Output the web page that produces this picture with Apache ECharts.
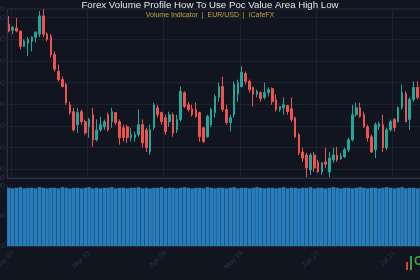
<!DOCTYPE html>
<html><head><meta charset="utf-8">
<script src="https://cdn.jsdelivr.net/npm/echarts@6/dist/echarts.min.js"></script>
<style>html,body{margin:0;padding:0;background:#10151f}#c{width:420px;height:280px}</style>
</head><body><div id="c"></div><script>
const dates = [
'Mar 02','Mar 03','Mar 04','Mar 05','Mar 06','Mar 09','Mar 10','Mar 11','Mar 12','Mar 13',
'Mar 16','Mar 17','Mar 18','Mar 19','Mar 20','Mar 23','Mar 24','Mar 25','Mar 26','Mar 27',
'Mar 30','Mar 31','Apr 01','Apr 02','Apr 03','Apr 06','Apr 07','Apr 08','Apr 09','Apr 10',
'Apr 13','Apr 14','Apr 15','Apr 16','Apr 17','Apr 20','Apr 21','Apr 22','Apr 23','Apr 24',
'Apr 27','Apr 28','Apr 29','Apr 30','May 01','May 04','May 05','May 06','May 07','May 08',
'May 11','May 12','May 13','May 14','May 15','May 18','May 19','May 20','May 21','May 22',
'May 25','May 26','May 27','May 28','May 29','Jun 01','Jun 02','Jun 03','Jun 04','Jun 05',
'Jun 08','Jun 09','Jun 10','Jun 11','Jun 12','Jun 15','Jun 16','Jun 17','Jun 18','Jun 19',
'Jun 22','Jun 23','Jun 24','Jun 25','Jun 26','Jun 29','Jun 30','Jul 01','Jul 02','Jul 03',
'Jul 06','Jul 07','Jul 08','Jul 09','Jul 10','Jul 13','Jul 14','Jul 15','Jul 16','Jul 17',
'Jul 20','Jul 21','Jul 22','Jul 23','Jul 24','Jul 27','Jul 28','Jul 29','Jul 30'];
const opens = [
1.1185,1.1171,1.1176,1.1169,1.1134,1.1141,1.1146,1.1155,1.1162,1.1204,
1.1162,1.1157,1.1115,1.1076,1.1057,1.1046,1.0999,1.0983,1.0953,1.0983,
1.0960,1.0948,1.0976,1.0918,1.0941,1.0948,1.0976,1.0960,1.0981,1.0960,
1.0946,1.0948,1.0923,1.0923,1.0930,1.0953,1.0941,1.0890,1.0946,1.0992,
1.0981,1.0969,1.0960,1.0976,1.0941,1.0965,1.1027,1.0999,1.0990,1.0988,
1.0981,1.0946,1.0925,1.0953,1.0981,1.1016,1.1041,1.0988,1.0958,1.0976,
1.1023,1.1041,1.1071,1.1053,1.1039,1.1023,1.1027,1.1016,1.1027,1.1036,
1.1011,1.0988,1.0992,1.0997,1.0990,1.0969,1.0930,1.0890,1.0883,1.0849,
1.0883,1.0867,1.0844,1.0867,1.0844,1.0872,1.0883,1.0874,1.0879,1.0895,
1.0918,1.0976,1.0992,1.0976,1.0948,1.0925,1.0895,1.0948,1.0953,1.0900,
1.0941,1.0965,1.0960,1.0992,1.1025,1.0965,1.1011,1.1039,1.1020];
const closes = [
1.1169,1.1178,1.1169,1.1134,1.1146,1.1150,1.1155,1.1166,1.1204,1.1162,
1.1150,1.1115,1.1081,1.1057,1.1041,1.1004,1.0981,1.0941,1.0981,1.0960,
1.0934,1.0965,1.0918,1.0941,1.0953,1.0960,1.0941,1.0983,1.0958,1.0923,
1.0923,1.0923,1.0930,1.0930,1.0953,1.0911,1.0900,1.0941,1.0999,1.0976,
1.0960,1.0937,1.0976,1.0934,1.0965,1.1030,1.0995,1.0988,1.0976,1.0972,
1.0925,1.0914,1.0972,1.0988,1.1018,1.1041,1.0988,1.0958,1.0969,1.1046,
1.1050,1.1074,1.1053,1.1034,1.1023,1.1030,1.1013,1.1027,1.1034,1.1006,
1.0988,1.0995,1.0999,1.0983,1.0965,1.0925,1.0888,1.0876,1.0853,1.0883,
1.0853,1.0844,1.0865,1.0862,1.0876,1.0883,1.0872,1.0881,1.0895,1.0918,
1.0976,1.0992,1.0972,1.0948,1.0923,1.0890,1.0953,1.0955,1.0900,1.0941,
1.0960,1.0946,1.0992,1.1027,1.0960,1.1011,1.1039,1.1016,1.1039];
const lows = [
1.1166,1.1162,1.1166,1.1127,1.1132,1.1111,1.1122,1.1143,1.1155,1.1155,
1.1146,1.1108,1.1076,1.1053,1.1039,1.0999,1.0976,1.0937,1.0934,1.0953,
1.0930,1.0923,1.0902,1.0914,1.0937,1.0941,1.0937,1.0946,1.0953,1.0907,
1.0914,1.0911,1.0914,1.0914,1.0925,1.0900,1.0890,1.0883,1.0941,1.0969,
1.0953,1.0930,1.0948,1.0925,1.0934,1.0960,1.0992,1.0983,1.0972,1.0969,
1.0914,1.0911,1.0923,1.0948,1.0969,1.1006,1.0983,1.0953,1.0937,1.0969,
1.1006,1.1039,1.1046,1.1027,1.0995,1.1016,1.1006,1.1011,1.1018,1.0999,
1.0983,1.0983,1.0976,1.0976,1.0960,1.0923,1.0883,1.0867,1.0832,1.0837,
1.0844,1.0842,1.0837,1.0853,1.0832,1.0865,1.0867,1.0872,1.0876,1.0890,
1.0914,1.0972,1.0969,1.0946,1.0914,1.0888,1.0876,1.0941,1.0890,1.0895,
1.0937,1.0937,1.0958,1.0988,1.0958,1.0941,1.1006,1.1011,1.1011];
const highs = [
1.1204,1.1180,1.1199,1.1169,1.1150,1.1155,1.1157,1.1169,1.1215,1.1220,
1.1166,1.1162,1.1122,1.1092,1.1064,1.1050,1.1006,1.0992,1.0992,1.0988,
1.0965,1.0969,1.0992,1.0965,1.0972,1.0965,1.0981,1.0992,1.0981,1.0965,
1.0953,1.0953,1.0946,1.0937,1.0988,1.0965,1.0946,1.0953,1.1004,1.0999,
1.0983,1.0976,1.0983,1.0981,1.0976,1.1041,1.1030,1.1006,1.0999,1.1004,
1.0983,1.0948,1.0976,1.0992,1.1023,1.1050,1.1064,1.0999,1.0976,1.1053,
1.1057,1.1088,1.1076,1.1057,1.1041,1.1034,1.1030,1.1050,1.1039,1.1039,
1.1023,1.0995,1.1016,1.0999,1.1016,1.0972,1.0934,1.0900,1.0888,1.0888,
1.0890,1.0872,1.0867,1.0900,1.0890,1.0900,1.0902,1.0888,1.0900,1.0923,
1.0999,1.1004,1.1004,1.0983,1.0953,1.0930,1.0958,1.0960,1.0976,1.0946,
1.0965,1.0969,1.0995,1.1046,1.1030,1.1016,1.1053,1.1053,1.1046];
const volumes = [
97,96,97,98,96,97,97,96,98,97, 96,97,97,96,98,97,96,97,97,96,
97,98,96,97,96,97,97,98,96,97, 97,96,97,97,98,96,97,96,97,97,
98,96,97,97,96,97,98,97,96,97, 97,96,98,97,96,97,97,96,97,98,
96,97,97,96,97,98,97,96,97,97, 96,97,98,96,97,97,96,97,97,98,
96,97,97,96,97,98,97,96,97,97, 96,97,98,97,96,97,97,96,97,98,
97,96,97,98,96,97,97,96,97];
const tickLabels = ['Mar 03','Mar 31','Apr 28','May 26','Jun 23','Jul 21'];
const titleText = 'Forex Volume Profile How To Use Poc Value Area High Low';
const subText = 'Volume Indicator  |  EUR/USD  |  ICafeFX';

const candleData = opens.map((o, i) => [o, closes[i], lows[i], highs[i]]);
const showTick = (i) => tickLabels.includes(dates[i]);
const chart = echarts.init(document.getElementById('c'), null, {renderer: 'canvas'});
const faint = '#2e3646';
chart.setOption({
  backgroundColor: '#10151f',
  animation: false,
  title: {
    text: titleText, subtext: subText, left: 'center', top: -5, itemGap: 2,
    textStyle: {color: '#e8e8ea', fontSize: 9.7, fontWeight: 'normal', fontFamily: 'Liberation Sans'},
    subtextStyle: {color: '#c9a53a', fontSize: 7, fontFamily: 'Liberation Sans'}
  },
  grid: [
    {left: 7, right: -3, top: 9, bottom: 102, show: true, borderColor: '#262e3c', borderWidth: 1,
     backgroundColor: 'transparent', outerBoundsMode: 'none', containLabel: false},
    {left: 7, right: -3, top: 186, bottom: 34, outerBoundsMode: 'none', containLabel: false}
  ],
  xAxis: [
    {type: 'category', gridIndex: 0, data: dates, boundaryGap: true,
     axisLine: {lineStyle: {color: '#2a3240'}}, axisTick: {show: false}, axisLabel: {show: false},
     splitLine: {show: true, interval: showTick, lineStyle: {color: '#1c2330'}}},
    {type: 'category', gridIndex: 1, data: dates, boundaryGap: true,
     axisLine: {lineStyle: {color: '#262e3c'}}, axisTick: {show: false},
     axisLabel: {interval: showTick, rotate: 45, color: faint, fontSize: 7, margin: 6, hideOverlap: false},
     splitLine: {show: false}}
  ],
  yAxis: [
    {type: 'value', gridIndex: 0, min: 1.0830, max: 1.1220, splitNumber: 8,
     axisLine: {show: true, lineStyle: {color: '#262e3c'}}, axisTick: {show: false},
     axisLabel: {color: faint, fontSize: 7, margin: 2, formatter: v => v.toFixed(4)},
     splitLine: {lineStyle: {color: '#1c2330'}}},
    {type: 'value', gridIndex: 1, min: 0, max: 100, splitNumber: 2,
     axisLine: {show: true, lineStyle: {color: '#262e3c'}}, axisTick: {show: false},
     axisLabel: {color: faint, fontSize: 7, margin: 2},
     splitLine: {show: false}}
  ],
  series: [
    {type: 'candlestick', xAxisIndex: 0, yAxisIndex: 0, data: candleData, barWidth: '55%',
     itemStyle: {color: '#26a69a', color0: '#ef5350', borderColor: '#26a69a', borderColor0: '#ef5350', borderWidth: 1}},
    {type: 'bar', xAxisIndex: 1, yAxisIndex: 1, data: volumes, barCategoryGap: '6%',
     itemStyle: {color: '#2a7dbd'}}
  ],
  graphic: [
    {type: 'rect', left: 406, top: 262, shape: {width: 2, height: 8}, style: {fill: '#e53935'}},
    {type: 'rect', left: 410, top: 256, shape: {width: 2, height: 14}, style: {fill: '#43a047'}},
    {type: 'text', left: 414, top: 256, style: {text: 'C', fill: '#43a047', font: 'bold 12px Liberation Sans'}}
  ]
});
</script></body></html>
